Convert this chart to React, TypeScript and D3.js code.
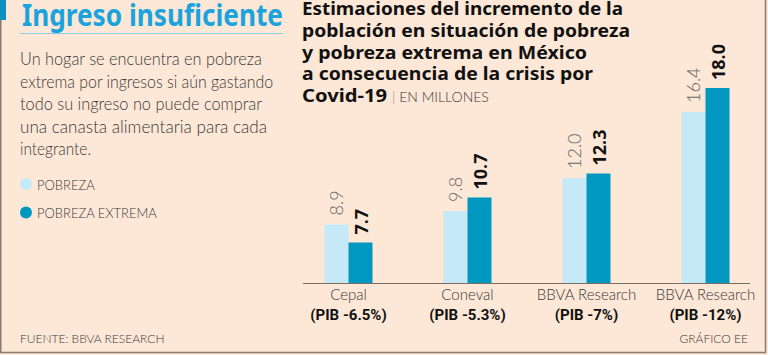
import React from "react";
import * as d3 from "d3";

const categories = ["Cepal", "Coneval", "BBVA Research", "BBVA Research"];
const subLabels = ["(PIB -6.5%)", "(PIB -5.3%)", "(PIB -7%)", "(PIB -12%)"];
const pobreza = [8.9, 9.8, 12.0, 16.4];
const pobrezaExtrema = [7.7, 10.7, 12.3, 18.0];
const seriesNames = ["POBREZA", "POBREZA EXTREMA"];
const titleLines = [
  "Estimaciones del incremento de la",
  "población en situación de pobreza",
  "y pobreza extrema en México",
  "a consecuencia de la crisis por",
  "Covid-19",
];
const bodyLines = [
  "Un hogar se encuentra en pobreza",
  "extrema por ingresos si aún gastando",
  "todo su ingreso no puede comprar",
  "una canasta alimentaria para cada",
  "integrante.",
];

const W = 768;
const H = 355;
const BG = "#fde7d6";
const LIGHT = "#c6e9f8";
const DARK = "#0097c1";
const TEXT = "#3a3a3a";
const FONT = "Lato, 'Noto Sans', sans-serif";
const BOLDFONT = "'Noto Sans', 'DejaVu Sans', sans-serif";

export default function App() {
  const x0 = d3.scaleBand<number>().domain(d3.range(categories.length)).range([289, 765]).paddingInner(0).paddingOuter(0);
  const x1 = d3.scaleBand<number>().domain([0, 1]).range([0, 48]);
  const y = d3.scaleLinear().domain([5, 18]).range([283, 88]);
  const base = y(5);
  const titleWidths = [321, 328, 285, 291, 85];
  const bodyWidths = [242, 253, 242, 247, 71];

  return (
    <svg width={W} height={H} style={{ position: "fixed", left: 0, top: 0 }}>
      <rect x={0} y={0} width={W} height={H} fill={BG} />
      <rect x={0} y={0} width={6} height={20} fill="#0e8fbd" />
      <line x1={0.75} y1={20} x2={0.75} y2={353} stroke="#8a7b72" strokeWidth={1.5} />
      <line x1={0} y1={352.5} x2={766} y2={352.5} stroke="#8a7b72" strokeWidth={1.5} />
      <line x1={765.5} y1={0} x2={765.5} y2={353} stroke="#8a7b72" strokeWidth={1.5} />

      <text x={22} y={26} fontFamily={BOLDFONT} fontWeight={700} fontSize={30} fill="#1aa3dc" textLength={261} lengthAdjust="spacingAndGlyphs">
        Ingreso insuficiente
      </text>
      <line x1={20} y1={33.5} x2={283} y2={33.5} stroke="#8ccde8" strokeWidth={1} />

      {bodyLines.map((l, i) => (
        <text key={i} x={20} y={65 + i * 22.5} fontFamily={FONT} fontWeight={300} fontSize={17.5} fill={TEXT} textLength={bodyWidths[i]} lengthAdjust="spacingAndGlyphs">
          {l}
        </text>
      ))}

      {seriesNames.map((s, i) => (
        <g key={s}>
          <circle cx={26} cy={184 + i * 28.5} r={6} fill={i === 0 ? LIGHT : DARK} />
          <text x={37} y={189.5 + i * 28} fontFamily={FONT} fontWeight={300} fontSize={13} fill={TEXT}>
            {s}
          </text>
        </g>
      ))}

      <text x={20} y={343} fontFamily={FONT} fontWeight={300} fontSize={12} fill={TEXT}>
        FUENTE: BBVA RESEARCH
      </text>

      {titleLines.map((l, i) => (
        <text key={i} x={302} y={15 + i * 21.8} fontFamily={BOLDFONT} fontWeight={700} fontSize={18.5} fill="#111" textLength={titleWidths[i]} lengthAdjust="spacingAndGlyphs">
          {l}
        </text>
      ))}
      <text x={392} y={102} fontFamily={FONT} fontWeight={300} fontSize={14} fill={TEXT}>
        <tspan fill="#888">|</tspan> EN MILLONES
      </text>

      {categories.map((c, i) => {
        const gx = x0(i)! + x0.bandwidth() / 2 - 24;
        const vals = [pobreza[i], pobrezaExtrema[i]];
        return (
          <g key={i}>
            {vals.map((v, j) => {
              const bx = gx + x1(j)!;
              const cx = bx + x1.bandwidth() / 2;
              return (
                <g key={j}>
                  <rect x={bx} y={y(v)} width={x1.bandwidth()} height={base - y(v)} fill={j === 0 ? LIGHT : DARK} />
                  <text
                    transform={`translate(${cx + (j === 0 ? 6 : 7)},${y(v) - (j === 0 ? 9 : 8)}) rotate(-90)`}
                    fontFamily={j === 0 ? FONT : BOLDFONT}
                    fontWeight={j === 0 ? 300 : 700}
                    fontSize={18}
                    fill={j === 0 ? "#666" : "#111"}
                  >
                    {d3.format(".1f")(v)}
                  </text>
                </g>
              );
            })}
            <text x={gx + 24} y={300} textAnchor="middle" fontFamily={FONT} fontWeight={300} fontSize={15} fill={TEXT}>
              {c}
            </text>
            <text x={gx + 24} y={320} textAnchor="middle" fontFamily="'Liberation Sans Narrow', 'Roboto', sans-serif" fontWeight={700} fontSize={15} fill="#111">
              {subLabels[i]}
            </text>
          </g>
        );
      })}
      <line x1={303} y1={base + 0.5} x2={750} y2={base + 0.5} stroke="#7a6e66" strokeWidth={1} />

      <text x={748} y={343} textAnchor="end" fontFamily={FONT} fontWeight={300} fontSize={12} fill={TEXT}>
        GRÁFICO EE
      </text>
    </svg>
  );
}
